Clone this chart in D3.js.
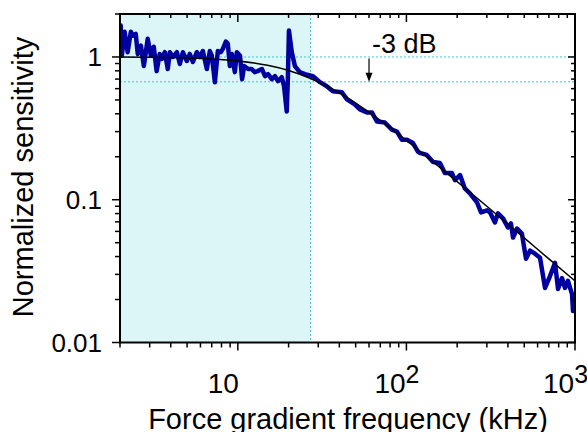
<!DOCTYPE html>
<html>
<head>
<meta charset="utf-8">
<script src="https://d3js.org/d3.v7.min.js"></script>
<style>
body { margin: 0; background: #fff; }
text { font-family: "Liberation Sans", Arial, sans-serif; fill: #000; }
</style>
</head>
<body>
<svg width="587" height="432"></svg>
<script>
// measured sensitivity (blue), frequency in kHz
var freq = [2.02, 2.05, 2.13, 2.22, 2.32, 2.38, 2.48, 2.55, 2.66, 2.77, 2.92, 3.05, 3.17, 3.30, 3.44, 3.54, 3.69, 3.84, 3.95, 4.11,
  4.35, 4.53, 4.72, 4.98, 5.19, 5.41, 5.71, 5.95, 6.20, 6.55, 6.82, 7.01, 7.31, 7.61, 7.93, 8.15, 8.49, 8.72, 8.97, 9.21,
  9.60, 9.87, 10.3, 10.6, 10.9, 11.5, 12.1, 12.6, 13.1, 13.9, 14.5, 15.1, 15.9, 16.6, 17.3, 18.2, 18.8, 19.5, 19.8, 20.1,
  20.9, 21.8, 23.3, 25.0, 27.9, 30.7, 33.7, 36.6, 41.4, 44.4, 49.4, 53.0, 58.3, 62.4, 66.8, 74.5, 82.0, 87.9, 94.0, 100.7,
  109, 117, 120, 132, 144, 158, 169, 186, 194, 208, 222, 238, 262, 277, 301, 313, 335, 349, 374, 400,
  417, 429, 453, 484, 512, 541, 579, 620, 664, 711, 761, 793, 837, 873, 908, 960, 973];
var sens = [1.66, 1.02, 1.50, 1.08, 1.50, 1.41, 1.45, 1.05, 1.20, 0.864, 1.34, 1.02, 1.18, 0.796, 1.05, 0.968, 1.08, 0.823, 1.08, 1.0,
  1.08, 0.893, 1.08, 0.937, 1.05, 0.922, 1.08, 1.0, 1.10, 0.823, 1.10, 1.02, 0.666, 1.10, 1.08, 1.14, 1.28, 1.24, 0.864, 1.05,
  0.783, 1.08, 1.02, 0.699, 0.864, 0.823, 0.823, 0.783, 0.796, 0.823, 0.734, 0.759, 0.699, 0.734, 0.677, 0.722, 0.624, 0.415, 0.699, 1.53,
  1.08, 0.864, 0.783, 0.759, 0.734, 0.666, 0.624, 0.575, 0.566, 0.505, 0.466, 0.429, 0.409, 0.409, 0.353, 0.347, 0.310, 0.300, 0.263, 0.263,
  0.251, 0.217, 0.213, 0.206, 0.184, 0.181, 0.154, 0.154, 0.137, 0.149, 0.120, 0.111, 0.096, 0.0816, 0.0843, 0.0816, 0.0693, 0.0803, 0.0740, 0.0640,
  0.0682, 0.0543, 0.0629, 0.0580, 0.0386, 0.0440, 0.0419, 0.0393, 0.0241, 0.0292, 0.0362, 0.0237, 0.0283, 0.0241, 0.0270, 0.0218, 0.0166];

// fitted curve (black)
var fitFreq = [2, 3, 5, 7, 10, 15, 20, 27, 30, 40, 50, 70, 100, 150, 200, 300, 500, 700, 1000];
var fitSens = [1.0, 0.995, 0.983, 0.968, 0.938, 0.874, 0.804, 0.707, 0.669, 0.56, 0.475, 0.36, 0.26, 0.177, 0.134, 0.09, 0.054, 0.0385, 0.027];

var cornerFreq = 27;      // edge of shaded band
var refLevels = [1, 0.67]; // dotted horizontal lines
var arrowFreq = 60;
var annotation = "-3 dB";

var xMajor = [10, 100, 1000];
var xMajorExp = ["", "2", "3"];
var yMajor = [1, 0.1, 0.01];
var yMajorLabels = ["1", "0.1", "0.01"];

var svg = d3.select("svg");
var pL = 120, pR = 575, pT = 14, pB = 342.5;

var x = d3.scaleLog().domain([2, 1000]).range([pL, pR]);
var y = d3.scaleLog().domain([0.01, 2]).range([pB, pT]);

svg.append("defs").append("clipPath").attr("id", "clip")
  .append("rect").attr("x", pL).attr("y", pT).attr("width", pR - pL).attr("height", pB - pT);

// shaded band
svg.append("rect")
  .attr("x", x(2)).attr("y", pT)
  .attr("width", x(cornerFreq) - x(2)).attr("height", pB - pT)
  .attr("fill", "#dcf6f8");

// dotted reference lines
svg.selectAll(".href").data(refLevels).enter().append("line")
  .attr("x1", pL).attr("x2", pR)
  .attr("y1", function(d) { return y(d); }).attr("y2", function(d) { return y(d); })
  .attr("stroke", "#3cc8d2").attr("stroke-width", 1).attr("stroke-dasharray", "2,2");
svg.append("line")
  .attr("x1", x(cornerFreq)).attr("x2", x(cornerFreq))
  .attr("y1", pT).attr("y2", pB)
  .attr("stroke", "#3cc8d2").attr("stroke-width", 1).attr("stroke-dasharray", "2,2");

var g = svg.append("g").attr("clip-path", "url(#clip)");

var line = d3.line()
  .x(function(d) { return x(d[0]); })
  .y(function(d) { return y(d[1]); });

g.append("path")
  .datum(d3.zip(freq, sens))
  .attr("d", line)
  .attr("fill", "none")
  .attr("stroke", "#0000a0")
  .attr("stroke-width", 4.5)
  .attr("stroke-linejoin", "round")
  .attr("stroke-linecap", "round");

g.append("path")
  .datum(d3.zip(fitFreq, fitSens))
  .attr("d", line.curve(d3.curveMonotoneX))
  .attr("fill", "none")
  .attr("stroke", "#000")
  .attr("stroke-width", 1.5);

// -3 dB arrow
var ax = x(arrowFreq), ay0 = y(0.975), ay1 = y(refLevels[1]);
svg.append("line")
  .attr("x1", ax).attr("x2", ax).attr("y1", ay0).attr("y2", ay1 - 6)
  .attr("stroke", "#000").attr("stroke-width", 1.2);
svg.append("path")
  .attr("d", "M" + (ax - 3.5) + "," + (ay1 - 9) + "L" + ax + "," + ay1 + "L" + (ax + 3.5) + "," + (ay1 - 9) + "Z")
  .attr("fill", "#000");
svg.append("text")
  .attr("x", ax + 3).attr("y", 53)
  .attr("font-size", 27)
  .text(annotation);

// ticks
var xt = x.ticks(), yt = y.ticks();
function isMajor(v) { return Math.abs(Math.log10(v) - Math.round(Math.log10(v))) < 1e-6; }

var ticks = svg.append("g").attr("stroke", "#000").attr("stroke-width", 1.5);
ticks.selectAll(".xb").data(xt).enter().append("line")
  .attr("x1", function(d) { return x(d); }).attr("x2", function(d) { return x(d); })
  .attr("y1", pB).attr("y2", function(d) { return pB + (isMajor(d) ? 8 : 5); });
ticks.selectAll(".xt").data(xt).enter().append("line")
  .attr("x1", function(d) { return x(d); }).attr("x2", function(d) { return x(d); })
  .attr("y1", pT).attr("y2", function(d) { return pT + (isMajor(d) ? 8 : 4); });
ticks.selectAll(".yl").data(yt).enter().append("line")
  .attr("y1", function(d) { return y(d); }).attr("y2", function(d) { return y(d); })
  .attr("x1", pL).attr("x2", function(d) { return pL - (isMajor(d) ? 8 : 5); });
ticks.selectAll(".yr").data(yt).enter().append("line")
  .attr("y1", function(d) { return y(d); }).attr("y2", function(d) { return y(d); })
  .attr("x1", pR).attr("x2", function(d) { return pR - (isMajor(d) ? 7 : 4); });

// frame
svg.append("rect")
  .attr("x", pL).attr("y", pT).attr("width", pR - pL).attr("height", pB - pT)
  .attr("fill", "none").attr("stroke", "#000").attr("stroke-width", 2);

// tick labels
svg.selectAll(".ylab").data(yMajor).enter().append("text")
  .attr("x", 102).attr("y", function(d) { return y(d); })
  .attr("dy", "0.35em")
  .attr("text-anchor", "end")
  .attr("font-size", 26)
  .text(function(d, i) { return yMajorLabels[i]; });

xMajor.forEach(function(v, i) {
  var t = svg.append("text").attr("y", 393).attr("font-size", 28);
  if (xMajorExp[i] === "") {
    t.attr("x", x(v) + 1).attr("text-anchor", "end").text("10");
  } else {
    t.attr("x", x(v) - 32);
    t.append("tspan").text("10");
    t.append("tspan").attr("dy", -10).attr("font-size", 25).text(xMajorExp[i]);
  }
});

// axis titles
svg.append("text")
  .attr("x", 348).attr("y", 429)
  .attr("text-anchor", "middle")
  .attr("font-size", 29)
  .text("Force gradient frequency (kHz)");
svg.append("text")
  .attr("transform", "translate(33,177) rotate(-90)")
  .attr("text-anchor", "middle")
  .attr("font-size", 29)
  .text("Normalized sensitivity");
</script>
</body>
</html>
